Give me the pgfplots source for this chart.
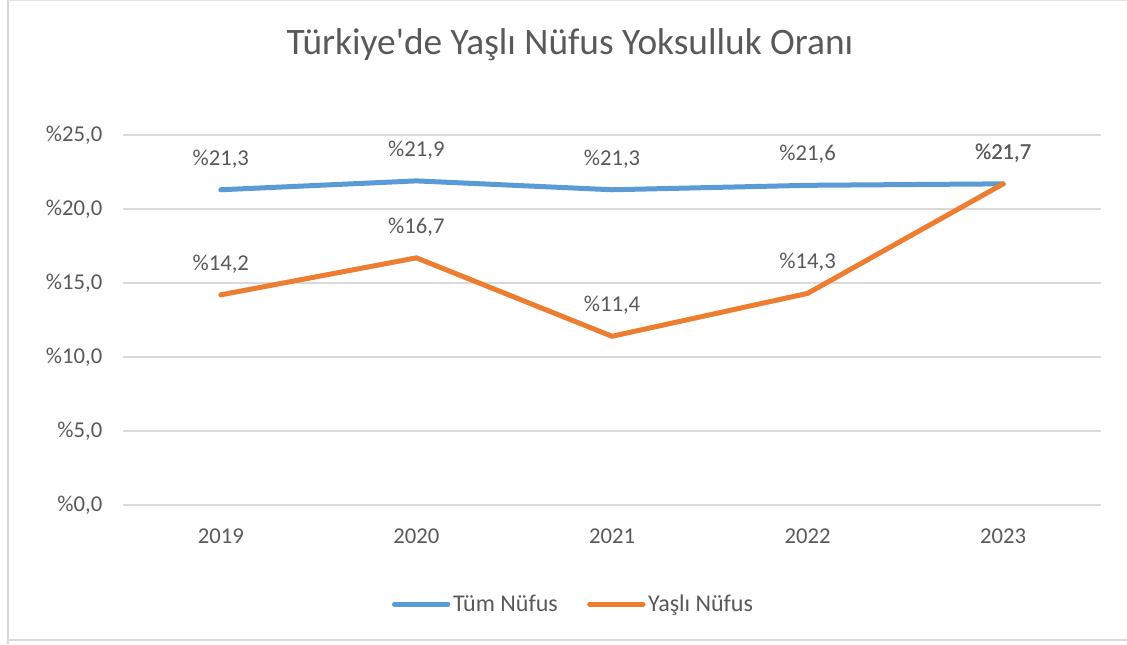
\documentclass[border=0pt]{standalone}
\usepackage{pgfplots}
\pgfplotsset{compat=1.18}
\usepackage{fontspec}
\setmainfont{Carlito}
\definecolor{tblue}{HTML}{5B9BD5}
\definecolor{torange}{HTML}{ED7D31}
\definecolor{ttext}{HTML}{595959}
\definecolor{tgrid}{HTML}{D9D9D9}
\begin{document}
\begin{tikzpicture}[x=0.75pt,y=0.75pt]
\path[use as bounding box] (0,0) rectangle (1127,644);
\draw[tgrid,line width=1.5pt] (8,0) -- (8,643.5);
\draw[tgrid!70,line width=0.75pt] (8,643.5) -- (1127,643.5);
\draw[tgrid,line width=1.5pt] (8,4) -- (1127,4);
\node[text=ttext,font=\fontsize{28pt}{34pt}\selectfont] at (570,599) {Türkiye\textquotesingle de Yaşlı Nüfus Yoksulluk Oranı};
\begin{axis}[
  at={(92.25pt,104.25pt)}, anchor=south west,
  scale only axis, width=733.5pt, height=277.5pt,
  xmin=-0.5, xmax=4.5, ymin=0, ymax=25,
  xtick={0,1,2,3,4}, xticklabels={2019,2020,2021,2022,2023},
  ytick={0,5,10,15,20,25},
  yticklabel={\%\pgfmathprintnumber[fixed,fixed zerofill,precision=1,use comma]{\tick}},
  /pgf/number format/assume math mode=true,
  axis line style={draw=none},
  tick style={draw=none},
  ymajorgrids, grid style={tgrid,line width=1.5pt},
  ticklabel style={text=ttext,font=\fontsize{17pt}{20pt}\selectfont},
  yticklabel style={xshift=-12pt},
  xticklabel style={yshift=-14.5pt},
  clip=false,
  every axis plot/.append style={line width=3.75pt, line cap=round, line join=round},
  nodes near coords={\%\pgfmathprintnumber[fixed,fixed zerofill,precision=1,use comma]{\pgfplotspointmeta}},
  every node near coord/.append style={text=ttext,font=\fontsize{17pt}{20pt}\selectfont,anchor=south,inner sep=0pt,yshift=14.5pt},
  legend columns=2,
  legend style={draw=none, fill=none, at={(0.461,-0.268)}, anchor=center,
    font=\fontsize{18pt}{21pt}\selectfont, text=ttext,
    /tikz/every even column/.append style={column sep=20pt}},
  legend image code/.code={\draw[#1] (0pt,0pt) -- (40pt,0pt);},
]
\addplot[tblue, mark=none] coordinates {(0,21.3) (1,21.9) (2,21.3) (3,21.6) (4,21.7)};
\addlegendentry{Tüm Nüfus}
\addplot[torange, mark=none] coordinates {(0,14.2) (1,16.7) (2,11.4) (3,14.3) (4,21.7)};
\addlegendentry{Yaşlı Nüfus}
\end{axis}
\end{tikzpicture}
\end{document}
